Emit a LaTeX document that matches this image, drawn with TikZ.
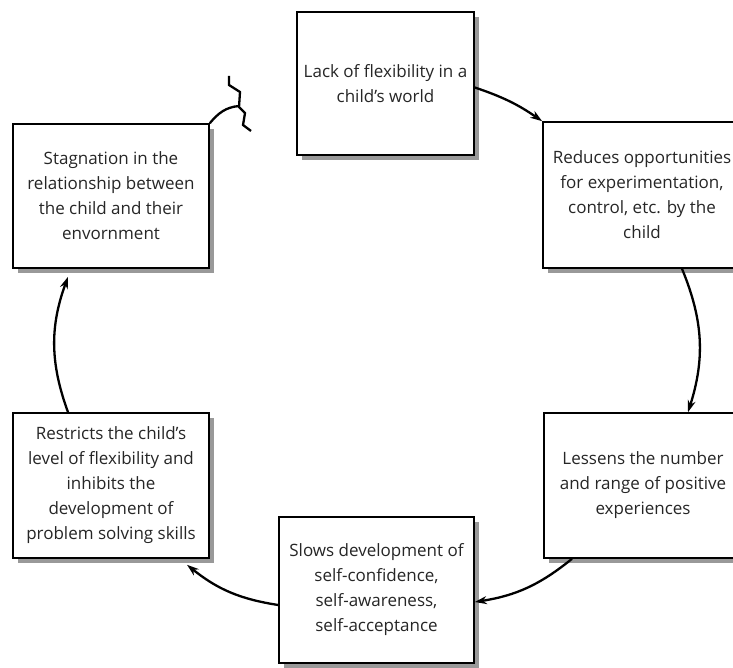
\documentclass[tikz,border=0pt]{standalone}
\usepackage{fontspec}
\setmainfont{Open Sans}
\usetikzlibrary{arrows.meta,shadows}
\tikzset{
    stage/.style={rectangle, draw=black, line width=1.6pt, fill=white, align=center,
        inner sep=0, text=black!85, font=\fontsize{17}{25}\selectfont,
        general shadow={shadow xshift=5pt, shadow yshift=-5pt, fill=black!40}},
    flow/.style={line width=2.3pt, -{Stealth[length=12pt,width=8pt]}}
}

\begin{document}
\begin{tikzpicture}[x=1pt,y=-1pt]
    \useasboundingbox (0,0) rectangle (733,668);
    \clip (0,0) rectangle (733,668);
    \node[stage, minimum width=177pt, minimum height=143pt] (lack) at (385.5,83.5)
        {Lack of flexibility in a\\child’s world};
    \node[stage, minimum width=198pt, minimum height=146pt] (reduces) at (642,195)
        {Reduces opportunities\\for experimentation,\\control, etc. by the\\child};
    \node[stage, minimum width=198pt, minimum height=145pt] (lessens) at (643,485.5)
        {Lessens the number\\and range of positive\\experiences};
    \node[stage, minimum width=195pt, minimum height=146pt] (slows) at (376.5,590)
        {Slows development of\\self-confidence,\\self-awareness,\\self-acceptance};
    \node[stage, minimum width=196pt, minimum height=145pt] (restricts) at (111,485.5)
        {Restricts the child’s\\level of flexibility and\\inhibits the\\development of\\problem solving skills};
    \node[stage, minimum width=196pt, minimum height=144pt] (stagnation) at (111,196)
        {Stagnation in the\\relationship between\\the child and their\\envornment};

    % the cycle
    \draw[flow] ([yshift=-4pt]lack.east) to[bend left=8] (reduces.north west);
    \draw[flow] ([xshift=40pt]reduces.south) to[bend left=20] ([xshift=45pt]lessens.north);
    \draw[flow] ([xshift=-71pt]lessens.south) to[bend left=15] ([yshift=-12pt]slows.east);
    \draw[flow] ([yshift=-15pt]slows.west) to[bend left=15] ([xshift=76pt,yshift=-6pt]restricts.south);
    \draw[flow] ([xshift=-43pt]restricts.north) to[bend left=20] ([xshift=-43pt,yshift=-8pt]stagnation.south);

    % broken link
    \coordinate (crack) at (239,106);
    \draw[line width=2.3pt] (stagnation.north east) to[out=50,in=185] (crack);
    \draw[line width=2.3pt] (229,76) -- (229,85) -- (240,92) -- (239,107)
        -- (245,113) -- (243,125) -- (251,131);
\end{tikzpicture}
\end{document}
